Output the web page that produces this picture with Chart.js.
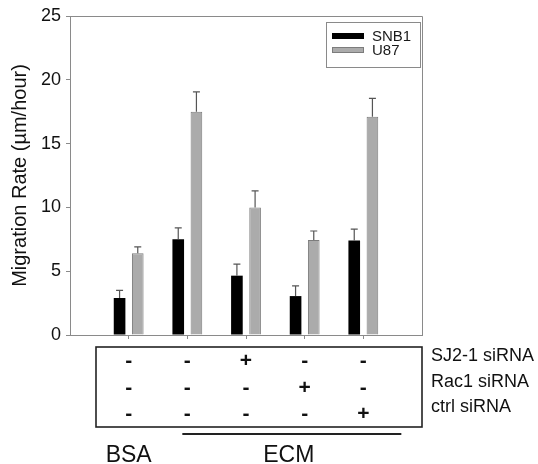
<!DOCTYPE html>
<html>
<head>
<meta charset="utf-8">
<script src="https://cdn.jsdelivr.net/npm/chart.js@4.4.0/dist/chart.umd.min.js"></script>
<style>
  html, body { margin: 0; padding: 0; background: #fff; }
  #wrap { width: 538px; height: 464px; }
</style>
</head>
<body>
<div id="wrap"><canvas id="migration-chart" width="538" height="464"></canvas></div>
<script>
  'use strict'

  // Conditions (one empty slot at each end so the groups sit like the original)
  var conditions = ['', 'BSA', 'ECM', 'ECM SJ2-1', 'ECM Rac1', 'ECM ctrl', '']
  var snb1 = [2.9, 7.5, 4.65, 3.05, 7.4]
  var snb1Err = [0.6, 0.9, 0.9, 0.8, 0.9]
  var u87 = [6.4, 17.5, 10.0, 7.45, 17.1]
  var u87Err = [0.5, 1.55, 1.3, 0.7, 1.45]
  var yTicks = [0, 5, 10, 15, 20, 25]

  // Treatment table under the chart
  var rowLabels = ['SJ2-1 siRNA', 'Rac1 siRNA', 'ctrl siRNA']
  var sj2Row = ['-', '-', '+', '-', '-']
  var rac1Row = ['-', '-', '-', '+', '-']
  var ctrlRow = ['-', '-', '-', '-', '+']
  var substrates = ['BSA', 'ECM', 'ECM', 'ECM', 'ECM']

  var FONT = '"Liberation Sans", Arial, sans-serif'

  function pad(arr) {
    return [null].concat(arr, [null])
  }

  // Error bars (upper half only, with a small cap)
  var errorBars = {
    id: 'errorBars',
    afterDatasetsDraw: function (chart) {
      var ctx = chart.ctx
      var y = chart.scales.y
      chart.data.datasets.forEach(function (ds, i) {
        var meta = chart.getDatasetMeta(i)
        meta.data.forEach(function (bar, j) {
          var v = ds.data[j]
          var err = ds.errors[j]
          if (v == null || err == null) return
          var top = y.getPixelForValue(v + err)
          ctx.save()
          ctx.strokeStyle = '#555'
          ctx.lineWidth = 1.2
          ctx.beginPath()
          ctx.moveTo(bar.x, bar.y)
          ctx.lineTo(bar.x, top)
          ctx.moveTo(bar.x - 3.5, top)
          ctx.lineTo(bar.x + 3.5, top)
          ctx.stroke()
          ctx.restore()
        })
      })
    }
  }

  // Frame, inner legend, treatment table and substrate labels
  var extras = {
    id: 'extras',
    afterDraw: function (chart) {
      var ctx = chart.ctx
      var area = chart.chartArea
      var x = chart.scales.x

      ctx.save()
      // top and right frame lines
      ctx.strokeStyle = '#8a8a8a'
      ctx.lineWidth = 1
      ctx.beginPath()
      ctx.moveTo(area.left, area.top + 0.5)
      ctx.lineTo(area.right + 0.5, area.top + 0.5)
      ctx.lineTo(area.right + 0.5, area.bottom)
      ctx.stroke()

      // legend box
      var lx = area.right - 96, ly = area.top + 6
      ctx.strokeStyle = '#8a8a8a'
      ctx.strokeRect(lx + 0.5, ly + 0.5, 94, 45)
      ctx.font = '15px ' + FONT
      ctx.textBaseline = 'middle'
      ctx.textAlign = 'left'
      chart.data.datasets.forEach(function (ds, i) {
        var sy = ly + 14 + i * 14
        ctx.fillStyle = ds.backgroundColor
        ctx.fillRect(lx + 6, sy - 3, 32, 6)
        if (ds.borderWidth) {
          ctx.strokeStyle = ds.borderColor
          ctx.strokeRect(lx + 6.5, sy - 2.5, 31, 5)
        }
        ctx.fillStyle = '#1a1a1a'
        ctx.fillText(ds.label, lx + 46, sy + 1)
      })

      // treatment table
      var bx = area.left + 26, by = area.bottom + 12
      ctx.strokeStyle = '#222'
      ctx.lineWidth = 1.6
      ctx.strokeRect(bx, by, area.right - bx, 80)
      var rows = [sj2Row, rac1Row, ctrlRow]
      ctx.textBaseline = 'alphabetic'
      rows.forEach(function (row, r) {
        ctx.fillStyle = '#111'
        ctx.font = 'bold 21px ' + FONT
        ctx.textAlign = 'center'
        row.forEach(function (s, c) {
          ctx.fillText(s, x.getPixelForValue(c + 1), by + 20 + r * 26.5)
        })
        ctx.font = '18px ' + FONT
        ctx.textAlign = 'left'
        ctx.fillText(rowLabels[r], area.right + 9, by + 14 + r * 25.5)
      })

      // substrate groups
      var groups = []
      substrates.forEach(function (s, i) {
        var g = groups[groups.length - 1]
        if (g && g.label === s) g.to = i
        else groups.push({ label: s, from: i, to: i })
      })
      ctx.font = '23px ' + FONT
      ctx.textAlign = 'center'
      ctx.fillStyle = '#111'
      groups.forEach(function (g) {
        var x0 = x.getPixelForValue(g.from + 1)
        var x1 = x.getPixelForValue(g.to + 1)
        var cx = (x0 + x1) / 2
        if (g.to > g.from) {
          var a = x0 - 5, b = x1 + 38
          ctx.strokeStyle = '#222'
          ctx.lineWidth = 2
          ctx.beginPath()
          ctx.moveTo(a, area.bottom + 99)
          ctx.lineTo(b, area.bottom + 99)
          ctx.stroke()
          cx = (a + b) / 2 - 3
        }
        ctx.fillText(g.label, cx, area.bottom + 127)
      })
      ctx.restore()
    }
  }

  var migrationCanvas = document.getElementById('migration-chart').getContext('2d')

  var migrationChart = new Chart(migrationCanvas, {
    type: 'bar',
    data: {
      labels: conditions,
      datasets: [
        {
          label: 'SNB1',
          data: pad(snb1),
          errors: pad(snb1Err),
          backgroundColor: '#000000',
          borderWidth: 0,
          categoryPercentage: 0.62,
          barPercentage: 0.64
        },
        {
          label: 'U87',
          data: pad(u87),
          errors: pad(u87Err),
          backgroundColor: '#ababab',
          borderColor: '#7c7c7c',
          borderWidth: 1,
          categoryPercentage: 0.62,
          barPercentage: 0.64
        }
      ]
    },
    options: {
      responsive: false,
      animation: false,
      layout: { padding: { left: 0, top: 16, right: 116, bottom: 0 } },
      plugins: {
        legend: { display: false },
        tooltip: { enabled: false }
      },
      scales: {
        x: {
          offset: false,
          grid: {
            offset: false,
            drawOnChartArea: false,
            tickLength: 4,
            color: function (c) {
              return (c.index === 0 || c.index === conditions.length - 1) ? 'rgba(0,0,0,0)' : '#8a8a8a'
            }
          },
          border: { display: true, color: '#8a8a8a' },
          ticks: { display: false },
          afterFit: function (s) { s.height = 129 }
        },
        y: {
          min: 0,
          max: 25,
          afterBuildTicks: function (s) {
            s.ticks = yTicks.map(function (v) { return { value: v } })
          },
          grid: { drawOnChartArea: false, tickLength: 4, color: '#8a8a8a' },
          border: { display: true, color: '#8a8a8a' },
          ticks: { padding: 5, color: '#111', font: { family: FONT, size: 18 } },
          title: {
            display: true,
            text: 'Migration Rate (µm/hour)',
            color: '#111',
            font: { family: FONT, size: 20 },
            padding: { top: 8, bottom: 0 }
          },
          afterFit: function (s) { s.width = 70 }
        }
      }
    },
    plugins: [errorBars, extras]
  })
</script>
</body>
</html>
